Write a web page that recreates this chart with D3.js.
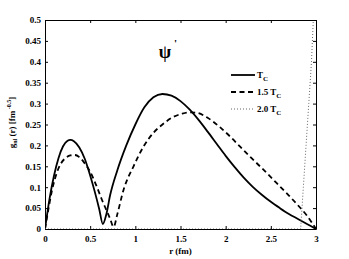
<!DOCTYPE html>
<html>
<head>
<meta charset="utf-8">
<script src="https://cdn.jsdelivr.net/npm/d3@7"></script>
<style>
  body { margin: 0; background: #fff; }
  text { font-family: "Liberation Serif", "Times New Roman", serif; font-weight: bold; }
</style>
</head>
<body>
<div id="chart"></div>
<script>
// g_nl(r) for psi' at three temperatures
const rTc = [0, 0.05, 0.1, 0.15, 0.2, 0.25, 0.28, 0.32, 0.38, 0.44, 0.5, 0.55, 0.6, 0.64, 0.68, 0.72, 0.8, 0.9, 1.0, 1.1, 1.2, 1.3, 1.4, 1.5, 1.6, 1.7, 1.8, 1.9, 2.0, 2.1, 2.2, 2.3, 2.4, 2.5, 2.6, 2.7, 2.8, 2.9, 3.0]
const gTc = [0, 0.072, 0.128, 0.17, 0.198, 0.211, 0.213, 0.21, 0.195, 0.168, 0.128, 0.09, 0.048, 0.012, 0.036, 0.08, 0.14, 0.2, 0.25, 0.291, 0.315, 0.323, 0.319, 0.306, 0.286, 0.261, 0.233, 0.204, 0.175, 0.148, 0.123, 0.101, 0.082, 0.065, 0.05, 0.036, 0.024, 0.012, 0]

const r15 = [0, 0.04, 0.08, 0.13, 0.18, 0.23, 0.28, 0.33, 0.38, 0.44, 0.5, 0.57, 0.63, 0.68, 0.72, 0.76, 0.8, 0.87, 0.98, 1.09, 1.2, 1.3, 1.42, 1.52, 1.6, 1.68, 1.8, 1.94, 2.05, 2.16, 2.27, 2.38, 2.5, 2.6, 2.7, 2.82, 2.9, 3.0]
const g15 = [0, 0.05, 0.095, 0.134, 0.158, 0.17, 0.176, 0.177, 0.172, 0.157, 0.137, 0.103, 0.07, 0.045, 0.025, 0.005, 0.035, 0.094, 0.15, 0.197, 0.23, 0.25, 0.268, 0.276, 0.279, 0.278, 0.266, 0.243, 0.221, 0.197, 0.173, 0.15, 0.124, 0.102, 0.08, 0.052, 0.032, 0]

const r20 = [0, 0.5, 1.0, 1.5, 2.0, 2.5, 2.83, 2.86, 2.89, 2.92, 2.95, 2.97, 2.99]
const g20 = [0, 0, 0, 0, 0, 0, 0, 0.1, 0.2, 0.3, 0.4, 0.5, 0.57]

const xTicks = [0, 0.5, 1, 1.5, 2, 2.5, 3]
const yTicks = [0, 0.05, 0.1, 0.15, 0.2, 0.25, 0.3, 0.35, 0.4, 0.45, 0.5]

const margin = {top: 20, right: 33, bottom: 30, left: 45},
	width = 349 - margin.left - margin.right,
	height = 259 - margin.top - margin.bottom

const svg = d3.select("#chart")
	.append("svg")
		.attr("width", 349)
		.attr("height", 259)
	.append("g")
		.attr("transform", `translate(${margin.left}, ${margin.top})`)

const x = d3.scaleLinear().domain([0, 3]).range([0, width])
const y = d3.scaleLinear().domain([0, 0.5]).range([height, 0])

svg.append("defs").append("clipPath").attr("id", "clip")
	.append("rect").attr("width", width).attr("height", height)

// axes with inward ticks on all sides
const fmt = d => d3.format("~g")(d)
svg.append("g").attr("transform", `translate(0, ${height})`)
	.call(d3.axisBottom(x).tickValues(xTicks).tickSizeInner(-3).tickSizeOuter(0).tickPadding(7).tickFormat(fmt))
svg.append("g")
	.call(d3.axisLeft(y).tickValues(yTicks).tickSizeInner(-3).tickSizeOuter(0).tickPadding(4).tickFormat(fmt))
svg.append("g")
	.call(d3.axisTop(x).tickValues(xTicks).tickSizeInner(-3).tickSizeOuter(0).tickFormat(""))
svg.append("g").attr("transform", `translate(${width}, 0)`)
	.call(d3.axisRight(y).tickValues(yTicks).tickSizeInner(-3).tickSizeOuter(0).tickFormat(""))

svg.selectAll(".domain").attr("stroke", "#000")
svg.selectAll(".tick line").attr("stroke", "#000")
svg.selectAll(".tick text")
	.attr("font-family", "Liberation Serif, serif")
	.attr("font-weight", "bold")
	.attr("font-size", 9)
	.attr("fill", "#000")

const smooth = d3.line().x(d => x(d[0])).y(d => y(d[1])).curve(d3.curveMonotoneX)
const straight = d3.line().x(d => x(d[0])).y(d => y(d[1]))

const series = [
	{r: rTc, g: gTc, dash: null, w: 1.8, col: "#000", gen: smooth},
	{r: r15, g: g15, dash: "5,3.5", w: 1.8, col: "#000", gen: smooth},
	{r: r20, g: g20, dash: "1,2", w: 1, col: "#666", gen: straight}
]

series.forEach(s => {
	svg.append("path")
		.datum(s.r.map((v, i) => [v, s.g[i]]))
		.attr("clip-path", "url(#clip)")
		.attr("fill", "none")
		.attr("stroke", s.col)
		.attr("stroke-width", s.w)
		.attr("stroke-dasharray", s.dash)
		.attr("d", s.gen)
})

// legend
const legend = svg.append("g").attr("transform", "translate(186, 55)")
const labels = ["T", "1.5 T", "2.0 T"]
series.forEach((s, i) => {
	const yy = i * 17
	legend.append("line")
		.attr("x1", 0).attr("x2", 24).attr("y1", yy).attr("y2", yy)
		.attr("stroke", s.col).attr("stroke-width", s.w)
		.attr("stroke-dasharray", s.dash)
	const t = legend.append("text").attr("x", 26).attr("y", yy + 3).attr("font-size", 9)
	t.append("tspan").text(labels[i])
	t.append("tspan").attr("font-size", 7).attr("dy", 3).text("C")
})

// psi' label
svg.append("text").attr("x", 120).attr("y", 38)
	.attr("font-size", 18).attr("font-weight", "normal").attr("font-family", "DejaVu Serif, serif")
	.attr("text-anchor", "middle").text("ψ")
svg.append("text").attr("x", 129).attr("y", 27)
	.attr("font-size", 11).text("'")

// axis titles
svg.append("text").attr("x", width / 2).attr("y", height + 25)
	.attr("text-anchor", "middle").attr("font-size", 9).text("r (fm)")

const yl = svg.append("text")
	.attr("transform", `translate(-30, ${height / 2 - 2}) rotate(-90)`)
	.attr("text-anchor", "middle").attr("font-size", 9)
yl.append("tspan").text("g")
yl.append("tspan").attr("font-size", 6).attr("dy", 2).text("nl")
yl.append("tspan").attr("dy", -2).text(" (r) [fm")
yl.append("tspan").attr("font-size", 6).attr("dy", -4).text(" -0.5")
yl.append("tspan").attr("dy", 4).text("]")
</script>
</body>
</html>
